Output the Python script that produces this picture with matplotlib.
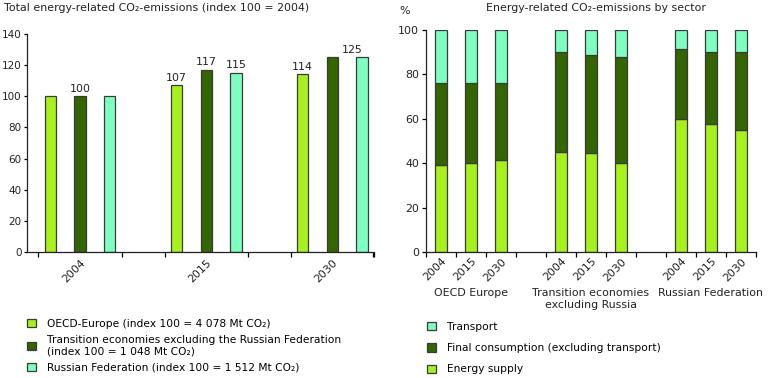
import matplotlib
matplotlib.use("Agg")
import matplotlib.pyplot as plt
import numpy as np

plt.rcParams['font.family'] = ['DejaVu Sans']

# ---- Data ----
years = ["2004", "2015", "2030"]
oecd_index = [100, 107, 114]
transition_index = [100, 117, 125]
russia_index = [100, 115, 125]
# labels shown above bars (None = no label)
oecd_labels = [None, "107", "114"]
transition_labels = ["100", "117", None]
russia_labels = [None, "115", "125"]

regions = ["OECD Europe", "Transition economies\nexcluding Russia", "Russian Federation"]
sector_years = ["2004", "2015", "2030"]
energy_supply = [39, 40, 41.5, 45, 44.7, 40, 60, 57.6, 55]
final_consumption = [37, 36, 34.5, 45, 44, 47.7, 31.3, 32.6, 35]
transport = [24, 24, 24, 10, 11.3, 12.3, 8.7, 9.8, 10]

legend_left = ["OECD-Europe (index 100 = 4 078 Mt CO\u2082)",
               "Transition economies excluding the Russian Federation\n(index 100 = 1 048 Mt CO\u2082)",
               "Russian Federation (index 100 = 1 512 Mt CO\u2082)"]
legend_right = ["Transport", "Final consumption (excluding transport)", "Energy supply"]

C_LIGHT = "#a6f01c"
C_DARK = "#336600"
C_AQUA = "#7fffbf"
EDGE = "#3a3a3a"
FS = 7.9
YFS = 7.5
TXT = "#222222"

W, H = 768, 378
fig = plt.figure(figsize=(W / 100, H / 100), dpi=100)

def ax_rect(l, t, r, b):
    return [l / W, 1 - b / H, (r - l) / W, (b - t) / H]

# ---- Left chart ----
ax1 = fig.add_axes(ax_rect(27, 34, 374, 252))
g = np.arange(len(years))
off = 0.235
bw = 0.09
series = [(oecd_index, C_LIGHT, oecd_labels, 0),
          (transition_index, C_DARK, transition_labels, 0),
          (russia_index, C_AQUA, russia_labels, -7)]
handles1 = []
for i, (vals, col, labs, dx) in enumerate(series):
    xs = g + (i - 1) * off
    b = ax1.bar(xs, vals, width=bw, color=col, edgecolor=EDGE, linewidth=0.9)
    handles1.append(b)
    for j, (x, v, lab) in enumerate(zip(xs, vals, labs)):
        if lab is not None:
            ddx = dx if (i == 2 and j == 2) else 0
            ax1.annotate(lab, (x, v), xytext=(ddx, 2), textcoords="offset points",
                         ha="center", va="bottom", fontsize=FS, color=TXT)
ax1.set_ylim(0, 140)
ax1.set_xlim(-0.42, 2.324)
ax1.set_yticks(np.arange(0, 141, 20))
ax1.set_xticks(g)
ax1.set_xticklabels(years, rotation=45, ha="right", va="top", rotation_mode="anchor")
bounds = []
for c in g:
    bounds += [c - 0.33, c + 0.33]
ax1.set_xticks(bounds + [2.324], minor=True)
ax1.tick_params(axis="x", which="major", length=0, pad=4, labelsize=FS, labelcolor=TXT)
ax1.tick_params(axis="x", which="minor", length=3.5, direction="out", width=0.9)
ax1.tick_params(axis="y", length=2.5, width=0.9, labelsize=YFS, pad=1.5, labelcolor=TXT)
for s in ["top", "right"]:
    ax1.spines[s].set_visible(False)
for s in ["left", "bottom"]:
    ax1.spines[s].set_linewidth(0.9)
    ax1.spines[s].set_color(TXT)

fig.text(4 / W, 1 - 8 / H, "Total energy-related CO\u2082-emissions (index 100 = 2004)",
         fontsize=FS, va="center", ha="left", color=TXT)

fig.legend(handles1, legend_left, loc="upper left", bbox_to_anchor=(27 / W, 1 - 319 / H),
           frameon=False, fontsize=FS - 0.2, handlelength=0.8, handleheight=0.8,
           handletextpad=1.1, labelspacing=0.55, borderpad=0, borderaxespad=0)

# ---- Right chart ----
ax2 = fig.add_axes(ax_rect(426, 30, 756, 252))
pos = []
for gi in range(len(regions)):
    pos += [gi * 4 + k for k in range(3)]
pos = np.array(pos)
bw2 = 0.42
es = np.array(energy_supply)
fc = np.array(final_consumption)
tr = np.array(transport)
b_es = ax2.bar(pos, es, width=bw2, color=C_LIGHT, edgecolor=EDGE, linewidth=0.9)
b_fc = ax2.bar(pos, fc, bottom=es, width=bw2, color=C_DARK, edgecolor=EDGE, linewidth=0.9)
b_tr = ax2.bar(pos, tr, bottom=es + fc, width=bw2, color=C_AQUA, edgecolor=EDGE, linewidth=0.9)
ax2.set_ylim(0, 100)
ax2.set_xlim(-0.5, 10.5)
ax2.set_yticks(np.arange(0, 101, 20))
ax2.set_xticks(pos)
ax2.set_xticklabels(sector_years * len(regions), rotation=45, ha="right", va="top",
                    rotation_mode="anchor")
ax2.set_xticks(np.arange(-0.5, 10.6, 1.0), minor=True)
ax2.tick_params(axis="x", which="major", length=0, pad=3, labelsize=FS, labelcolor=TXT)
ax2.tick_params(axis="x", which="minor", length=3.5, direction="out", width=0.9)
ax2.tick_params(axis="y", length=3, width=0.9, labelsize=FS, pad=2, labelcolor=TXT)
for s in ["top", "right"]:
    ax2.spines[s].set_visible(False)
for s in ["left", "bottom"]:
    ax2.spines[s].set_linewidth(0.9)
    ax2.spines[s].set_color(TXT)
trans = ax2.get_xaxis_transform()
for gi, name in enumerate(regions):
    ax2.text(gi * 4 + 1, -0.162, name, transform=trans, ha="center", va="top",
             fontsize=FS, color=TXT, linespacing=1.3)

fig.text(596 / W, 1 - 8 / H, "Energy-related CO\u2082-emissions by sector",
         fontsize=FS, va="center", ha="center", color=TXT)
fig.text(399 / W, 1 - 11 / H, "%", fontsize=FS, va="center", ha="left", color=TXT)

fig.legend([b_tr, b_fc, b_es], legend_right, loc="upper left",
           bbox_to_anchor=(427 / W, 1 - 322 / H),
           frameon=False, fontsize=FS - 0.2, handlelength=0.8, handleheight=0.8,
           handletextpad=1.1, labelspacing=1.05, borderpad=0, borderaxespad=0)

fig.savefig("out.png", dpi=100)
